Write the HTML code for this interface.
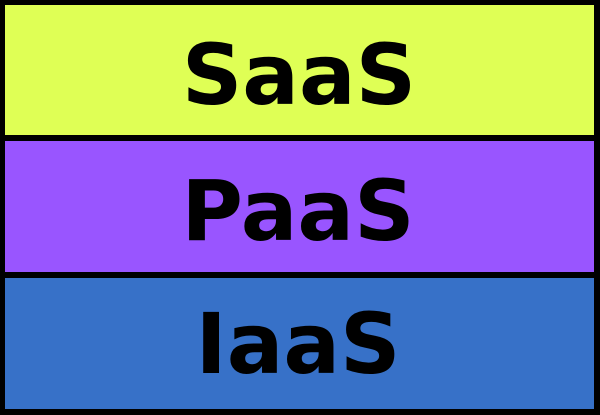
<!DOCTYPE html>
<html><head><style>html,body{margin:0;padding:0;background:#000;}svg{display:block}</style></head>
<body>
<svg width="600" height="415" xmlns="http://www.w3.org/2000/svg">
<rect x="0" y="0" width="600" height="415" fill="#000"/>
<rect x="5" y="5" width="589" height="130" fill="#dfff55"/>
<rect x="5" y="141" width="589" height="131" fill="#9955ff"/>
<rect x="5" y="278" width="589" height="131" fill="#3771c8"/>
<g font-family="DejaVu Sans, sans-serif" font-weight="bold" font-size="84" text-anchor="middle" fill="#000">
<text x="299" y="104">SaaS</text>
<text x="298" y="240">PaaS</text>
<text x="298" y="373">IaaS</text>
</g>
</svg>
</body></html>
